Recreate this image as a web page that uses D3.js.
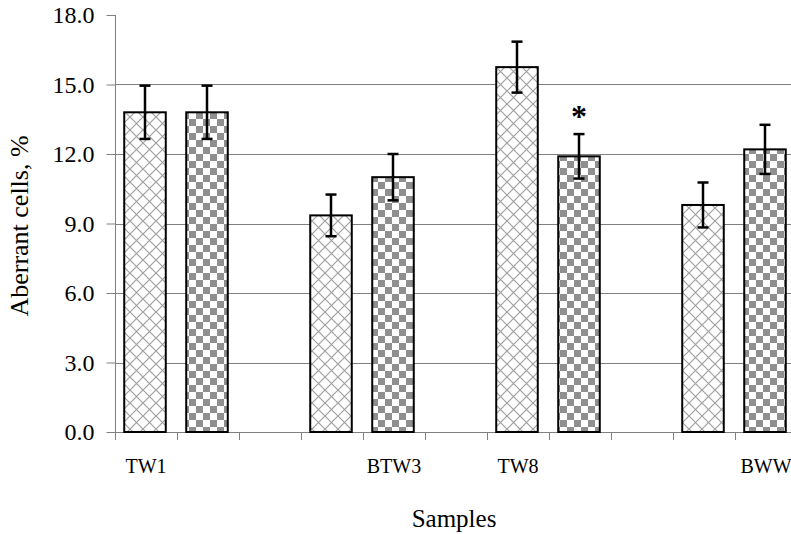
<!DOCTYPE html>
<html>
<head>
<meta charset="utf-8">
<script src="https://cdn.jsdelivr.net/npm/d3@7"></script>
<style>
  body { margin: 0; background: #fff; }
  svg { display: block; }
  svg text { font-family: "Liberation Serif", "DejaVu Serif", serif; }
</style>
</head>
<body>
<script>
// 11 category slots on the x axis, only some carry a label
var slotLabels = ["TW1", "", "", "", "BTW3", "", "TW8", "", "", "", "BWW"];
// first series (cross-hatched bars)
var hatchValues = [13.8, null, null, 9.35, null, null, 15.75, null, null, 9.8, null];
var hatchErrors = [1.15, null, null, 0.9, null, null, 1.1, null, null, 0.97, null];
// second series (checkered bars)
var checkValues = [null, 13.8, null, null, 11.0, null, null, 11.9, null, null, 12.2];
var checkErrors = [null, 1.15, null, null, 1.0, null, null, 0.96, null, null, 1.06];
var starSlots = [7];
var yTicks = [0, 3, 6, 9, 12, 15, 18];

var w = 791;
var h = 534;
var plotL = 115, plotR = 797, plotT = 15, plotB = 432;
var serif = "Liberation Serif, DejaVu Serif, serif";

var svg = d3.select("body").append("svg")
	.attr("width", w)
	.attr("height", h)
	.attr("font-family", serif);

var defs = svg.append("defs");

var check = defs.append("pattern")
	.attr("id", "check")
	.attr("patternUnits", "userSpaceOnUse")
	.attr("width", 14)
	.attr("height", 14);
check.append("rect").attr("width", 14).attr("height", 14).attr("fill", "#fff");
check.append("rect").attr("width", 7).attr("height", 7).attr("fill", "#8f8f8f");
check.append("rect").attr("x", 7).attr("y", 7).attr("width", 7).attr("height", 7).attr("fill", "#8f8f8f");

var hatch = defs.append("pattern")
	.attr("id", "hatch")
	.attr("patternUnits", "userSpaceOnUse")
	.attr("width", 13)
	.attr("height", 13);
hatch.append("rect").attr("width", 13).attr("height", 13).attr("fill", "#fff");
hatch.append("path")
	.attr("d", "M0,0L13,13M13,0L0,13")
	.attr("stroke", "#a0a0a0")
	.attr("stroke-width", 1.2)
	.attr("fill", "none");

var x = d3.scaleBand()
	.domain(d3.range(slotLabels.length))
	.range([plotL, plotR])
	.padding(0);

var y = d3.scaleLinear()
	.domain([0, 18])
	.range([plotB, plotT]);

var barW = x.bandwidth() * 0.67;

// gridlines (not on the top tick)
svg.append("g")
	.selectAll("line")
	.data(yTicks.filter(function(d) { return d > 0 && d < 18; }))
	.enter()
	.append("line")
	.attr("x1", plotL)
	.attr("x2", w)
	.attr("y1", function(d) { return Math.round(y(d)) + 0.5; })
	.attr("y2", function(d) { return Math.round(y(d)) + 0.5; })
	.attr("stroke", "#808080")
	.attr("stroke-width", 1);

// y axis
var yAxis = svg.append("g")
	.attr("transform", "translate(" + (plotL + 0.5) + ",0)")
	.call(d3.axisLeft(y).tickValues(yTicks).tickSize(9).tickPadding(12).tickFormat(d3.format(".1f")))
	.attr("font-family", serif)
	.attr("font-size", 24);
yAxis.select(".domain").attr("stroke", "#808080").attr("d", "M0," + plotT + "V" + (plotB + 7));
yAxis.selectAll(".tick line").attr("stroke", "#808080");
yAxis.selectAll(".tick text").attr("fill", "#000");

// x axis: ticks between category slots
var bounds = d3.range(slotLabels.length + 1).map(function(i) {
	return i < slotLabels.length ? x(i) : plotR;
});
var xg = svg.append("g");
xg.append("line")
	.attr("x1", plotL)
	.attr("x2", w)
	.attr("y1", plotB + 0.5)
	.attr("y2", plotB + 0.5)
	.attr("stroke", "#808080");
xg.selectAll("line.tk")
	.data(bounds)
	.enter()
	.append("line")
	.attr("class", "tk")
	.attr("x1", function(d) { return Math.round(d) + 0.5; })
	.attr("x2", function(d) { return Math.round(d) + 0.5; })
	.attr("y1", plotB)
	.attr("y2", plotB + 8)
	.attr("stroke", "#808080");
xg.selectAll("text")
	.data(slotLabels)
	.enter()
	.append("text")
	.text(function(d) { return d; })
	.attr("x", function(d, i) { return x(i) + x.bandwidth() / 2; })
	.attr("y", 473)
	.attr("text-anchor", "middle")
	.attr("font-size", "20px")
	.attr("fill", "#000");

function drawSeries(values, errors, fill) {
	var pts = values.map(function(v, i) { return { i: i, v: v, e: errors[i] }; })
		.filter(function(d) { return d.v != null; });

	svg.append("g")
		.selectAll("rect")
		.data(pts)
		.enter()
		.append("rect")
		.attr("x", function(d) { return x(d.i) + (x.bandwidth() - barW) / 2 - 1; })
		.attr("y", function(d) { return y(d.v); })
		.attr("width", barW)
		.attr("height", function(d) { return plotB - y(d.v); })
		.attr("fill", fill)
		.attr("stroke", "#000")
		.attr("stroke-width", 2);

	var eb = svg.append("g")
		.selectAll("g")
		.data(pts)
		.enter()
		.append("g")
		.attr("transform", function(d) { return "translate(" + (x(d.i) + x.bandwidth() / 2 - 1) + ",0)"; });
	eb.append("line")
		.attr("y1", function(d) { return y(d.v + d.e); })
		.attr("y2", function(d) { return y(d.v - d.e); })
		.attr("stroke", "#000")
		.attr("stroke-width", 2.5);
	eb.append("line")
		.attr("x1", -5.5).attr("x2", 5.5)
		.attr("y1", function(d) { return y(d.v + d.e); })
		.attr("y2", function(d) { return y(d.v + d.e); })
		.attr("stroke", "#000")
		.attr("stroke-width", 2.5);
	eb.append("line")
		.attr("x1", -5.5).attr("x2", 5.5)
		.attr("y1", function(d) { return y(d.v - d.e); })
		.attr("y2", function(d) { return y(d.v - d.e); })
		.attr("stroke", "#000")
		.attr("stroke-width", 2.5);
}

drawSeries(hatchValues, hatchErrors, "url(#hatch)");
drawSeries(checkValues, checkErrors, "url(#check)");

// significance mark
svg.append("g")
	.selectAll("text")
	.data(starSlots)
	.enter()
	.append("text")
	.text("*")
	.attr("x", function(d) { return x(d) + x.bandwidth() / 2 - 1; })
	.attr("y", function(d) { return y(checkValues[d] + checkErrors[d]) - 7; })
	.attr("text-anchor", "middle")
	.attr("font-size", "32px")
	.attr("font-weight", "bold")
	.attr("fill", "#000");

// axis titles
svg.append("text")
	.text("Samples")
	.attr("x", 454)
	.attr("y", 527)
	.attr("text-anchor", "middle")
	.attr("font-size", "25px")
	.attr("fill", "#000");

svg.append("text")
	.text("Aberrant cells, %")
	.attr("transform", "translate(28,226) rotate(-90)")
	.attr("text-anchor", "middle")
	.attr("font-size", "26px")
	.attr("fill", "#000");
</script>
</body>
</html>
